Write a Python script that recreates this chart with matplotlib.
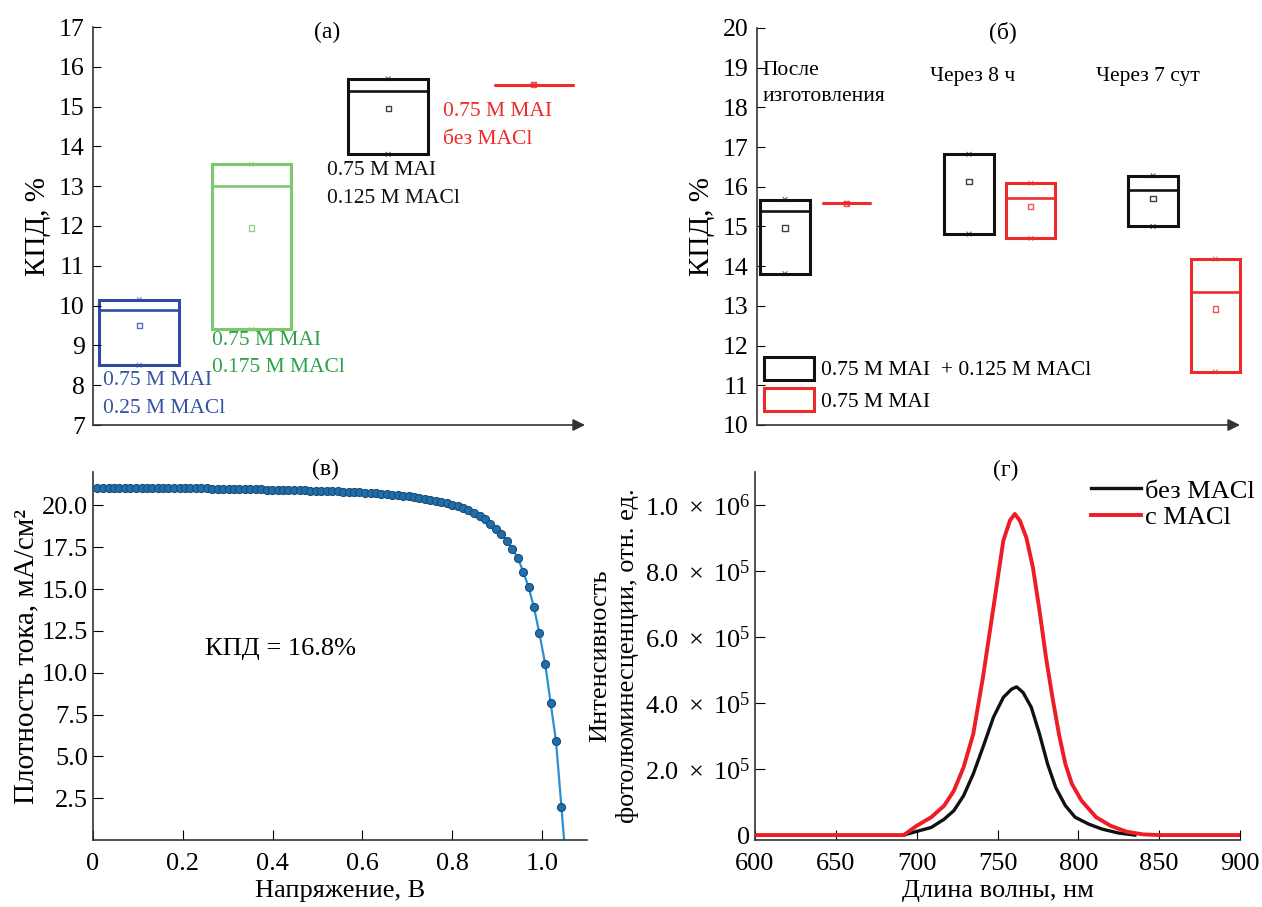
import matplotlib.pyplot as plt
from matplotlib.patches import Patch

plt.rcParams['font.family'] = ['Liberation Serif', 'DejaVu Serif']
plt.rcParams['mathtext.fontset'] = 'custom'
plt.rcParams['mathtext.rm'] = 'Liberation Serif'
plt.rcParams['mathtext.it'] = 'Liberation Serif:italic'
plt.rcParams['axes.linewidth'] = 1.2
plt.rcParams['axes.edgecolor'] = '#333333'

# (а) PCE statistics vs MACl content
a_low = [8.50, 9.40, 13.80, 15.55]
a_high = [10.15, 13.55, 15.70, 15.55]
a_median = [9.90, 13.00, 15.38, 15.55]
a_mean = [9.50, 11.95, 14.95, 15.55]
a_labels = ['0.75 M MAI\n0.25 M MACl', '0.75 M MAI\n0.175 M MACl',
            '0.75 M MAI\n0.125 M MACl', '0.75 M MAI\nбез MACl']
a_colors = ['#2d4ba5', '#7cc86c', '#111111', '#ee2b2b']
a_text_colors = ['#3453a8', '#2ea24a', '#111111', '#ee2b2b']

# (б) PCE vs storage time, black = with MACl, red = without
b_low = [13.81, 15.58, 14.81, 14.70, 15.00, 11.34]
b_high = [15.68, 15.58, 16.82, 16.09, 16.28, 14.18]
b_median = [15.38, 15.58, float('nan'), 15.71, 15.92, 13.34]
b_mean = [14.96, 15.58, 16.13, 15.50, 15.71, 12.92]
b_stages = ['После\nизготовления', 'Через 8 ч', 'Через 7 сут']
b_legend = ['0.75 M MAI  + 0.125 M MACl', '0.75 M MAI']
b_colors = ['#111111', '#ee2b2b'] * 3

# (в) J-V curve
volt = [0.010, 0.022, 0.035, 0.047, 0.059, 0.071, 0.083, 0.095, 0.108, 0.120,
        0.132, 0.144, 0.156, 0.168, 0.180, 0.193, 0.205, 0.217, 0.229, 0.241,
        0.253, 0.265, 0.278, 0.290, 0.302, 0.314, 0.326, 0.338, 0.350, 0.363,
        0.375, 0.387, 0.399, 0.411, 0.423, 0.435, 0.448, 0.460, 0.472, 0.484,
        0.496, 0.508, 0.520, 0.533, 0.545, 0.557, 0.569, 0.581, 0.593, 0.606,
        0.618, 0.630, 0.642, 0.654, 0.666, 0.679, 0.691, 0.703, 0.715, 0.727,
        0.739, 0.751, 0.764, 0.776, 0.788, 0.800, 0.812, 0.824, 0.836, 0.849,
        0.861, 0.873, 0.885, 0.897, 0.909, 0.922, 0.934, 0.946, 0.958, 0.970,
        0.982, 0.994, 1.007, 1.019, 1.031, 1.043]
jsc = [21.05, 21.05, 21.05, 21.05, 21.05, 21.05, 21.04, 21.04, 21.04, 21.04,
       21.04, 21.03, 21.03, 21.03, 21.03, 21.03, 21.03, 21.02, 21.02, 21.02,
       21.02, 21.01, 21.00, 21.00, 20.99, 20.99, 20.98, 20.98, 20.97, 20.97,
       20.96, 20.95, 20.95, 20.94, 20.93, 20.92, 20.91, 20.90, 20.90, 20.89,
       20.88, 20.87, 20.86, 20.85, 20.84, 20.83, 20.82, 20.80, 20.79, 20.77,
       20.75, 20.73, 20.71, 20.68, 20.65, 20.62, 20.58, 20.54, 20.50, 20.45,
       20.40, 20.34, 20.28, 20.21, 20.13, 20.04, 19.94, 19.83, 19.70, 19.55,
       19.38, 19.17, 18.92, 18.62, 18.30, 17.90, 17.40, 16.85, 16.05, 15.10,
       13.90, 12.35, 10.50, 8.20, 5.90, 2.00]
voc = 1.049

# (г) PL spectra
wl_red = [600, 650, 692, 700, 709, 717, 723, 729, 735, 741, 747.5, 753.6,
          757.7, 760.7, 763.8, 767.8, 771.9, 776, 780, 784, 788, 792, 796,
          802, 811, 820, 830, 840, 850, 900]
pl_red = [0, 0, 0, 0.028e6, 0.054e6, 0.089e6, 0.134e6, 0.205e6, 0.306e6,
          0.478e6, 0.690e6, 0.892e6, 0.953e6, 0.973e6, 0.953e6, 0.902e6,
          0.811e6, 0.680e6, 0.538e6, 0.417e6, 0.306e6, 0.215e6, 0.155e6,
          0.104e6, 0.054e6, 0.028e6, 0.010e6, 0.002e6, 0, 0]
wl_black = [692, 700, 709, 717, 723, 729, 735, 741, 747.5, 753.6, 758.7,
            761.8, 765.8, 770.9, 776, 781, 786, 792, 798, 806.5, 814.7, 825, 835]
pl_black = [0, 0.011e6, 0.023e6, 0.048e6, 0.074e6, 0.119e6, 0.185e6, 0.266e6,
            0.357e6, 0.417e6, 0.442e6, 0.449e6, 0.432e6, 0.387e6, 0.306e6,
            0.215e6, 0.144e6, 0.089e6, 0.054e6, 0.033e6, 0.018e6, 0.006e6, 0]
pl_ticks = [0, 2e5, 4e5, 6e5, 8e5, 1e6]
pl_ticklabels = ['0', r'$2.0\ \times\ 10^5$', r'$4.0\ \times\ 10^5$',
                 r'$6.0\ \times\ 10^5$', r'$8.0\ \times\ 10^5$',
                 r'$1.0\ \times\ 10^6$']

W, H = 1262, 907
fig = plt.figure(figsize=(W / 100, H / 100), dpi=100)
ax_a = fig.add_axes([93 / W, (H - 425) / H, 492 / W, 398 / H])
ax_b = fig.add_axes([757 / W, (H - 425) / H, 483 / W, 397 / H])
ax_c = fig.add_axes([93 / W, (H - 840) / H, 494 / W, 368 / H])
ax_d = fig.add_axes([755 / W, (H - 840) / H, 485 / W, 368 / H])


def box_panel(ax, pos, width, low, high, med, mean, colors, lw):
    ax.bar(pos, [h - l for h, l in zip(high, low)], bottom=low, width=width,
           fill=False, edgecolor=colors, linewidth=lw, clip_on=False)
    ax.hlines(med, [p - width / 2 for p in pos], [p + width / 2 for p in pos],
              colors=colors, linewidth=lw * 0.85)
    ax.scatter(pos, mean, marker='s', s=14, facecolors='none',
               edgecolors=colors, linewidths=1.0, alpha=0.8, zorder=3)
    ax.scatter(pos + pos, low + high, marker='x', s=12,
               c=colors + colors, linewidths=0.7, alpha=0.7, zorder=3)
    ax.set_xlim(0, 1)
    for s in ['top', 'right', 'bottom']:
        ax.spines[s].set_visible(False)
    ax.set_xticks([])
    ax.tick_params(axis='y', direction='in', length=6, labelsize=18.5, pad=6)
    ax.annotate('', xy=(1.0, 0), xytext=(0, 0), xycoords='axes fraction',
                arrowprops=dict(arrowstyle='-|>', color='#333333', lw=1.2,
                                mutation_scale=18, shrinkA=0, shrinkB=0))
    ax.set_ylabel('КПД, %', fontsize=21, labelpad=6)


# (a)
pos_a = [0.094, 0.322, 0.600, 0.896]
box_panel(ax_a, pos_a, 0.162, a_low, a_high, a_median, a_mean, a_colors, 2.2)
ax_a.set_ylim(7, 17)
ax_a.set_yticks(range(7, 18))
text_a = [(0.02, 7.77), (0.242, 8.78), (0.476, 13.04), (0.711, 14.53)]
for (tx, ty), lab, col in zip(text_a, a_labels, a_text_colors):
    ax_a.text(tx, ty, lab, color=col, fontsize=15.5, va='center', ha='left',
              linespacing=1.6, transform=ax_a.get_yaxis_transform())
ax_a.text(0.476, 0.987, '(a)', transform=ax_a.transAxes, ha='center',
          va='center', fontsize=17)

# (б)
pos_b = [0.058, 0.185, 0.439, 0.567, 0.820, 0.949]
box_panel(ax_b, pos_b, 0.102, b_low, b_high, b_median, b_mean, b_colors, 2.2)
ax_b.set_ylim(10, 20)
ax_b.set_yticks(range(10, 21))
stage_xy = [(0.012, 18.6), (0.358, 18.77), (0.702, 18.77)]
for (tx, ty), lab in zip(stage_xy, b_stages):
    ax_b.text(tx, ty, lab, fontsize=15.5, va='center', ha='left',
              linespacing=1.5, transform=ax_b.get_yaxis_transform())
ax_b.text(0.509, 0.99, '(б)', transform=ax_b.transAxes, ha='center',
          va='center', fontsize=17)
handles = [Patch(facecolor='none', edgecolor=c, linewidth=2.2)
           for c in b_colors[:2]]
ax_b.legend(handles, b_legend, loc='lower left', bbox_to_anchor=(-0.025, -0.015),
            frameon=False, fontsize=15.5, handlelength=2.3, handleheight=1.25,
            labelspacing=0.35, handletextpad=0.35)

# (в)
ax_c.plot(volt + [voc], jsc + [0], color='#2b8fd6', lw=1.6, zorder=2)
ax_c.plot(volt, jsc, 'o', ms=5.8, color='#1f6fad', mec='#1a4d78', mew=0.8,
          zorder=3)
ax_c.set_xlim(0, 1.1)
ax_c.set_ylim(0, 22)
ax_c.set_xticks([0, 0.2, 0.4, 0.6, 0.8, 1.0])
ax_c.set_xticklabels(['0', '0.2', '0.4', '0.6', '0.8', '1.0'])
ax_c.set_yticks([2.5, 5, 7.5, 10, 12.5, 15, 17.5, 20])
ax_c.set_yticklabels(['%.1f' % v for v in [2.5, 5, 7.5, 10, 12.5, 15, 17.5, 20]])
ax_c.tick_params(direction='in', length=7, labelsize=19)
ax_c.tick_params(axis='x', pad=9)
for s in ['top', 'right']:
    ax_c.spines[s].set_visible(False)
ax_c.set_xlabel('Напряжение, В', fontsize=19, labelpad=4)
ax_c.set_ylabel('Плотность тока, мА/см²', fontsize=21, labelpad=2)
ax_c.text(0.227, 0.52, 'КПД = 16.8%', transform=ax_c.transAxes, fontsize=19,
          ha='left', va='center')
ax_c.text(0.47, 1.008, '(в)', transform=ax_c.transAxes, ha='center',
          va='center', fontsize=17)

# (г)
ax_d.plot(wl_black, pl_black, color='#111111', lw=2.4, label='без MACl', zorder=2)
ax_d.plot(wl_red, pl_red, color='#ee1c24', lw=2.8, label='с MACl', zorder=3)
ax_d.set_xlim(600, 900)
ax_d.set_ylim(-1.5e4, 1.1e6)
ax_d.set_xticks([600, 650, 700, 750, 800, 850, 900])
ax_d.set_yticks(pl_ticks)
ax_d.set_yticklabels(pl_ticklabels)
ax_d.tick_params(direction='in', length=7, labelsize=19)
ax_d.tick_params(axis='x', pad=9)
for s in ['top', 'right']:
    ax_d.spines[s].set_visible(False)
ax_d.set_xlabel('Длина волны, нм', fontsize=19, labelpad=4)
ax_d.set_ylabel('Интенсивность\nфотолюминесценции, отн. ед.', fontsize=19,
                linespacing=1.3, labelpad=4)
ax_d.text(0.516, 1.005, '(г)', transform=ax_d.transAxes, ha='center',
          va='center', fontsize=17)
ax_d.legend(loc='upper right', bbox_to_anchor=(1.08, 1.045), frameon=False,
            fontsize=19, handlelength=1.9, handletextpad=0.15, labelspacing=0.1)

fig.savefig('out.png', dpi=100)
